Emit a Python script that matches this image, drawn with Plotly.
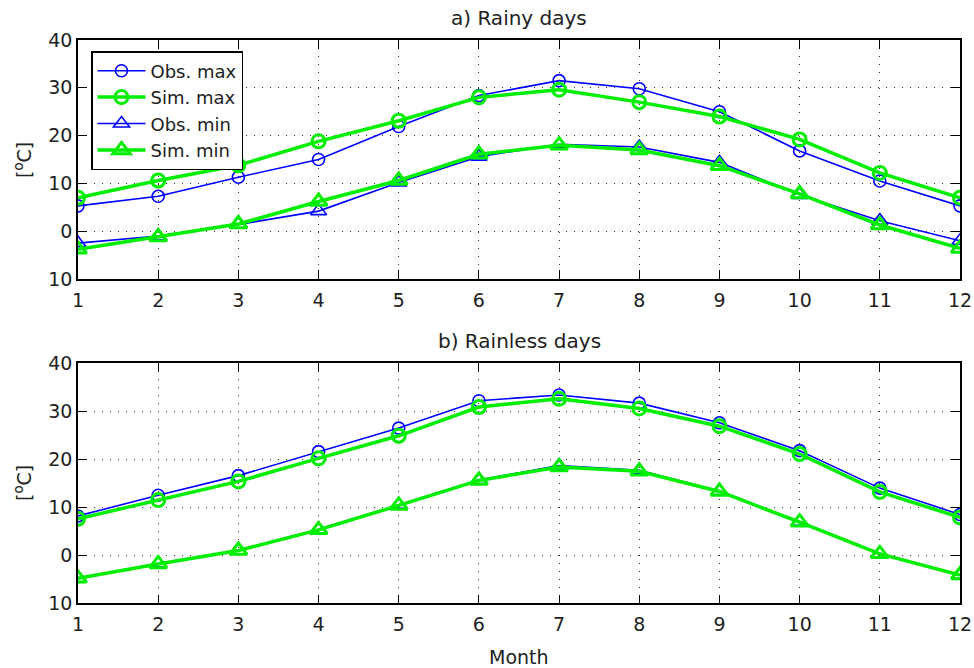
import plotly.graph_objects as go

months = list(range(1, 13))

# a) Rainy days
rainy_obs_max = [5.3, 7.3, 11.3, 15.0, 21.9, 28.4, 31.5, 29.8, 25.0, 16.8, 10.5, 5.3]
rainy_sim_max = [7.0, 10.6, 13.8, 18.8, 23.1, 28.0, 29.6, 27.0, 24.0, 19.2, 12.2, 7.0]
rainy_obs_min = [-2.5, -1.0, 1.4, 4.2, 10.2, 15.6, 18.2, 17.6, 14.4, 7.6, 2.2, -2.0]
rainy_sim_min = [-3.8, -1.2, 1.5, 6.2, 10.6, 16.1, 18.0, 17.0, 13.7, 7.8, 1.3, -3.6]

# b) Rainless days
dry_obs_max = [8.2, 12.5, 16.6, 21.6, 26.5, 32.2, 33.4, 31.7, 27.6, 21.8, 14.0, 8.5]
dry_sim_max = [7.6, 11.5, 15.4, 20.2, 24.9, 30.9, 32.6, 30.6, 26.9, 21.1, 13.2, 7.9]
dry_obs_min = [-4.8, -1.7, 1.0, 5.4, 10.5, 15.7, 18.7, 17.7, 13.4, 7.0, 0.4, -4.1]
dry_sim_min = [-4.8, -1.8, 1.0, 5.3, 10.4, 15.6, 18.4, 17.5, 13.3, 6.9, 0.3, -4.1]

ytick_vals = [-10, 0, 10, 20, 30, 40]
ytick_text = ["10", "0", "10", "20", "30", "40"]

names = ["Obs. max", "Sim. max", "Obs. min", "Sim. min"]
BLUE = "#0000ff"
GREEN = "#00ee00"
FONT = "DejaVu Sans"
FS = 19
TXT = "#222222"

fig = go.Figure()

def add_panel(series, xa, ya, showlegend):
    styles = [
        (BLUE, 1.6, "circle-open", 12, 1.6),
        (GREEN, 3.5, "circle-open", 13, 3.0),
        (BLUE, 1.6, "triangle-up-open", 14, 1.6),
        (GREEN, 3.5, "triangle-up-open", 15, 3.0),
    ]
    for name, ys, (c, w, sym, sz, mw) in zip(names, series, styles):
        fig.add_trace(go.Scatter(
            x=months, y=ys, name=name, mode="lines+markers",
            line=dict(color=c, width=w),
            marker=dict(symbol=sym, size=sz, color=c, line=dict(color=c, width=mw)),
            xaxis=xa, yaxis=ya, showlegend=showlegend,
        ))

add_panel([rainy_obs_max, rainy_sim_max, rainy_obs_min, rainy_sim_min], "x", "y", True)
add_panel([dry_obs_max, dry_sim_max, dry_obs_min, dry_sim_min], "x2", "y2", False)

W, H = 974, 668
xdom = [78 / W, 960 / W]
ydom_top = [1 - 279 / H, 1 - 40 / H]
ydom_bot = [1 - 603.3 / H, 1 - 363.3 / H]

axis_common = dict(
    showline=True, linecolor="black", linewidth=1.5, mirror="allticks",
    ticks="inside", ticklen=9, tickcolor="black", tickwidth=1,
    showgrid=True, gridcolor="#333333", gridwidth=1, griddash="1px,7px",
    zeroline=False, automargin=False,
    tickfont=dict(family=FONT, size=FS, color=TXT),
)

xcommon = dict(axis_common, range=[1, 12], tickvals=months, domain=xdom,
               ticklabelstandoff=3)
ycommon = dict(axis_common, range=[-10, 40], tickvals=ytick_vals, ticktext=ytick_text)

fig.update_layout(
    width=W, height=H,
    margin=dict(l=0, r=0, t=0, b=0, autoexpand=False),
    paper_bgcolor="white", plot_bgcolor="white",
    font=dict(family=FONT, size=FS, color=TXT),
    xaxis=dict(xcommon, anchor="y"),
    yaxis=dict(ycommon, domain=ydom_top, anchor="x"),
    xaxis2=dict(xcommon, anchor="y2"),
    yaxis2=dict(ycommon, domain=ydom_bot, anchor="x2"),
    legend=dict(
        x=91 / W, y=1 - 51 / H, xanchor="left", yanchor="top",
        bgcolor="white", bordercolor="black", borderwidth=1.5,
        font=dict(family=FONT, size=18, color=TXT),
        itemwidth=48, tracegroupgap=0,
    ),
    showlegend=True,
)

annos = [
    dict(text="a) Rainy days", x=519 / W, y=1 - 18 / H, size=20),
    dict(text="b) Rainless days", x=519 / W, y=1 - 341 / H, size=20),
    dict(text="Month", x=519 / W, y=1 - 657 / H, size=FS),
    dict(text="[<sup>o</sup>C]", x=23 / W, y=1 - 160 / H, textangle=-90, size=FS),
    dict(text="[<sup>o</sup>C]", x=23 / W, y=1 - 483 / H, textangle=-90, size=FS),
]
for a in annos:
    sz = a.pop("size")
    fig.add_annotation(xref="paper", yref="paper", showarrow=False,
                       xanchor="center", yanchor="middle",
                       font=dict(family=FONT, size=sz, color=TXT), **a)

fig.write_html("out.html")
